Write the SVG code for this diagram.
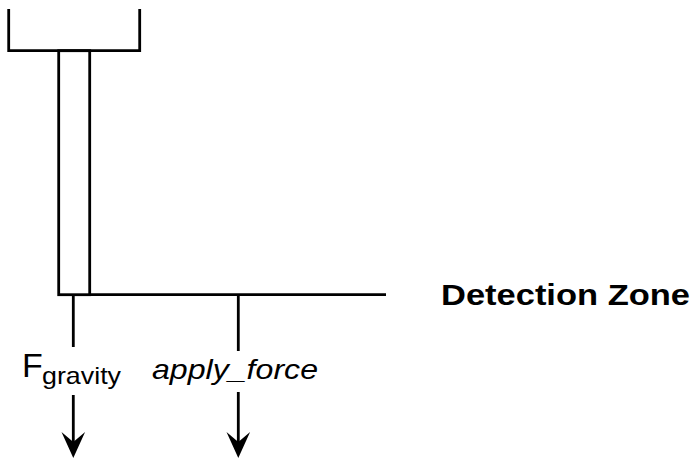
<svg xmlns="http://www.w3.org/2000/svg" width="695" height="460" viewBox="0 0 695 460">
  <style>
    .ln { fill: none; stroke: #000; stroke-width: 2.8; }
    .txt { font-family: "Liberation Sans", Arial, sans-serif; fill: #000; }
  </style>
  <rect width="695" height="460" fill="#fff"/>

  <!-- holder bracket -->
  <g id="holder">
    <path class="ln" d="M8.7,9 V50.7 H139.7 V9"/>
  </g>

  <!-- rod hanging from the holder -->
  <g id="rod">
    <rect class="ln" x="58.7" y="50.7" width="31" height="244"/>
  </g>

  <!-- detection zone boundary -->
  <g id="zone">
    <line class="ln" x1="89.7" y1="294.7" x2="386" y2="294.7"/>
    <text class="txt" x="441" y="305" font-size="30" font-weight="bold" textLength="249" lengthAdjust="spacingAndGlyphs">Detection Zone</text>
  </g>

  <!-- force labels -->
  <g id="gravity-label">
    <text class="txt" x="22" y="377" font-size="34">F</text>
    <text class="txt" x="42" y="384" font-size="24" textLength="79" lengthAdjust="spacingAndGlyphs">gravity</text>
  </g>
  <g id="apply-force-label">
    <text class="txt" x="152" y="379" font-size="28" font-style="italic" textLength="166" lengthAdjust="spacingAndGlyphs">apply_force</text>
  </g>

  <!-- connectors -->
  <g id="connectors">
    <line class="ln" x1="73.3" y1="294.7" x2="73.3" y2="347"/>
    <line class="ln" x1="73.3" y1="395" x2="73.3" y2="445"/>
    <path d="M61.5,432 L73.3,458 L85.1,432 L73.3,442 Z" fill="#000"/>
    <line class="ln" x1="238.3" y1="294.7" x2="238.3" y2="351"/>
    <line class="ln" x1="238.3" y1="392" x2="238.3" y2="445"/>
    <path d="M226.5,432 L238.3,458 L250.1,432 L238.3,442 Z" fill="#000"/>
  </g>
</svg>
